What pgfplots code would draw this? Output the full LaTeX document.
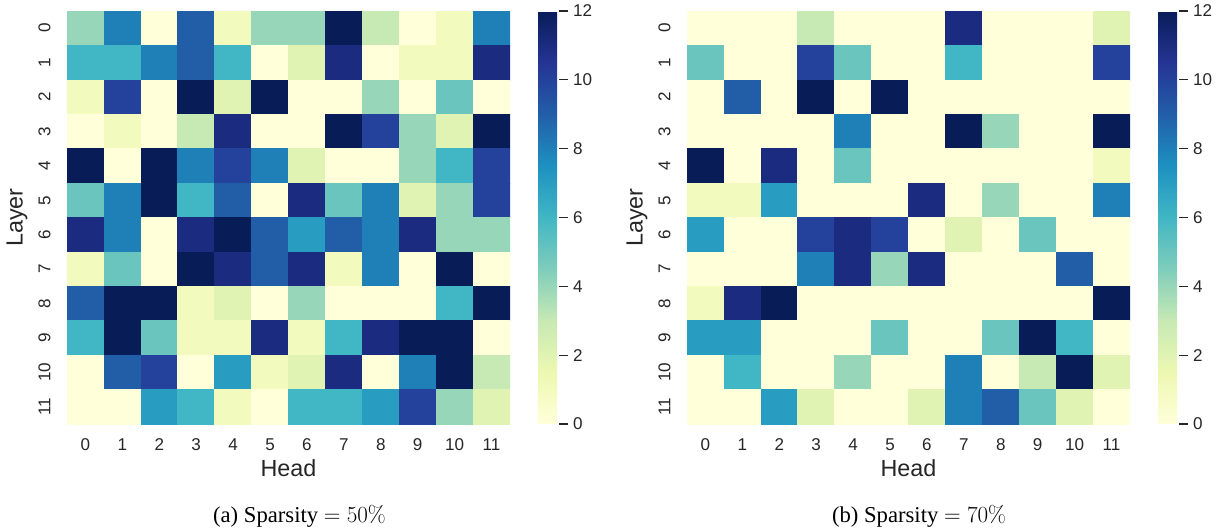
\documentclass[border=0pt]{standalone}
\usepackage{pgfplots}
\pgfplotsset{compat=1.18}
\usepackage[no-math]{fontspec}
\setmainfont{Liberation Sans}
\newfontfamily\capfont{Liberation Serif}
\definecolor{txt}{HTML}{262626}
\newcommand\tickfont{\fontsize{12.8}{15}\selectfont}
\newcommand\labfont{\fontsize{17.5}{21}\selectfont}
\pgfplotsset{
  colormap={ylgnbu}{rgb255=(255,255,217) rgb255=(237,248,177) rgb255=(199,233,180) rgb255=(127,205,187) rgb255=(65,182,196) rgb255=(29,145,192) rgb255=(34,94,168) rgb255=(37,52,148) rgb255=(8,29,88)},
  hm/.style={
    anchor=south west, scale only axis, width=332.25pt, height=309.75pt,
    xmin=-0.5, xmax=11.5, ymin=-0.5, ymax=11.5, y dir=reverse, enlargelimits=false,
    xtick={0,...,11}, ytick={0,...,11},
    axis line style={draw=none}, major tick length=0pt,
    colormap name=ylgnbu, point meta min=0, point meta max=12,
    /pgf/number format/assume math mode=true,
    tick label style={font=\tickfont, text=txt},
    xticklabel style={anchor=center, yshift=-15.4pt},
    yticklabel style={xshift=-16.9pt, rotate=90, anchor=center},
    xlabel={Head}, ylabel={Layer},
    xlabel style={at={(axis description cs:0.5,-0.1275)}, anchor=base, font=\labfont, text=txt},
    ylabel style={at={(axis description cs:-0.1129,0.5)}, anchor=center, font=\labfont, text=txt},
    colorbar,
    colorbar shift/.style={xshift=21pt},
    colorbar style={
      scale only axis, width=15.75pt,
      ytick={0,2,...,12}, major tick length=7pt, tick align=outside, ytick pos=right,
      axis line style={draw=none}, tick style={draw=txt, line width=0.8pt},
      /pgf/number format/assume math mode=true,
      yticklabel style={font=\tickfont, text=txt},
    },
  },
}
\begin{document}
\begin{tikzpicture}
\useasboundingbox (0,0) rectangle (913.5pt,396pt);
\begin{axis}[hm, at={(50.25pt,78pt)}]
\addplot[matrix plot*, mesh/cols=12, point meta=explicit] coordinates {
(0,0)[4] (1,0)[8] (2,0)[0] (3,0)[9] (4,0)[1] (5,0)[4] (6,0)[4] (7,0)[12] (8,0)[3] (9,0)[0] (10,0)[1] (11,0)[8]
(0,1)[6] (1,1)[6] (2,1)[8] (3,1)[9] (4,1)[6] (5,1)[0] (6,1)[2] (7,1)[11] (8,1)[0] (9,1)[1] (10,1)[1] (11,1)[11]
(0,2)[1] (1,2)[10] (2,2)[0] (3,2)[12] (4,2)[2] (5,2)[12] (6,2)[0] (7,2)[0] (8,2)[4] (9,2)[0] (10,2)[5] (11,2)[0]
(0,3)[0] (1,3)[1] (2,3)[0] (3,3)[3] (4,3)[11] (5,3)[0] (6,3)[0] (7,3)[12] (8,3)[10] (9,3)[4] (10,3)[2] (11,3)[12]
(0,4)[12] (1,4)[0] (2,4)[12] (3,4)[8] (4,4)[10] (5,4)[8] (6,4)[2] (7,4)[0] (8,4)[0] (9,4)[4] (10,4)[6] (11,4)[10]
(0,5)[5] (1,5)[8] (2,5)[12] (3,5)[6] (4,5)[9] (5,5)[0] (6,5)[11] (7,5)[5] (8,5)[8] (9,5)[2] (10,5)[4] (11,5)[10]
(0,6)[11] (1,6)[8] (2,6)[0] (3,6)[11] (4,6)[12] (5,6)[9] (6,6)[7] (7,6)[9] (8,6)[8] (9,6)[11] (10,6)[4] (11,6)[4]
(0,7)[1] (1,7)[5] (2,7)[0] (3,7)[12] (4,7)[11] (5,7)[9] (6,7)[11] (7,7)[1] (8,7)[8] (9,7)[0] (10,7)[12] (11,7)[0]
(0,8)[9] (1,8)[12] (2,8)[12] (3,8)[1] (4,8)[2] (5,8)[0] (6,8)[4] (7,8)[0] (8,8)[0] (9,8)[0] (10,8)[6] (11,8)[12]
(0,9)[6] (1,9)[12] (2,9)[5] (3,9)[1] (4,9)[1] (5,9)[11] (6,9)[1] (7,9)[6] (8,9)[11] (9,9)[12] (10,9)[12] (11,9)[0]
(0,10)[0] (1,10)[9] (2,10)[10] (3,10)[0] (4,10)[7] (5,10)[1] (6,10)[2] (7,10)[11] (8,10)[0] (9,10)[8] (10,10)[12] (11,10)[3]
(0,11)[0] (1,11)[0] (2,11)[7] (3,11)[6] (4,11)[1] (5,11)[0] (6,11)[6] (7,11)[6] (8,11)[7] (9,11)[10] (10,11)[4] (11,11)[2]
};
\end{axis}
\begin{axis}[hm, at={(515.25pt,78pt)}]
\addplot[matrix plot*, mesh/cols=12, point meta=explicit] coordinates {
(0,0)[0] (1,0)[0] (2,0)[0] (3,0)[3] (4,0)[0] (5,0)[0] (6,0)[0] (7,0)[11] (8,0)[0] (9,0)[0] (10,0)[0] (11,0)[2]
(0,1)[5] (1,1)[0] (2,1)[0] (3,1)[10] (4,1)[5] (5,1)[0] (6,1)[0] (7,1)[6] (8,1)[0] (9,1)[0] (10,1)[0] (11,1)[10]
(0,2)[0] (1,2)[9] (2,2)[0] (3,2)[12] (4,2)[0] (5,2)[12] (6,2)[0] (7,2)[0] (8,2)[0] (9,2)[0] (10,2)[0] (11,2)[0]
(0,3)[0] (1,3)[0] (2,3)[0] (3,3)[0] (4,3)[8] (5,3)[0] (6,3)[0] (7,3)[12] (8,3)[4] (9,3)[0] (10,3)[0] (11,3)[12]
(0,4)[12] (1,4)[0] (2,4)[11] (3,4)[0] (4,4)[5] (5,4)[0] (6,4)[0] (7,4)[0] (8,4)[0] (9,4)[0] (10,4)[0] (11,4)[1]
(0,5)[1] (1,5)[1] (2,5)[7] (3,5)[0] (4,5)[0] (5,5)[0] (6,5)[11] (7,5)[0] (8,5)[4] (9,5)[0] (10,5)[0] (11,5)[8]
(0,6)[7] (1,6)[0] (2,6)[0] (3,6)[10] (4,6)[11] (5,6)[10] (6,6)[0] (7,6)[2] (8,6)[0] (9,6)[5] (10,6)[0] (11,6)[0]
(0,7)[0] (1,7)[0] (2,7)[0] (3,7)[8] (4,7)[11] (5,7)[4] (6,7)[11] (7,7)[0] (8,7)[0] (9,7)[0] (10,7)[9] (11,7)[0]
(0,8)[1] (1,8)[11] (2,8)[12] (3,8)[0] (4,8)[0] (5,8)[0] (6,8)[0] (7,8)[0] (8,8)[0] (9,8)[0] (10,8)[0] (11,8)[12]
(0,9)[7] (1,9)[7] (2,9)[0] (3,9)[0] (4,9)[0] (5,9)[5] (6,9)[0] (7,9)[0] (8,9)[5] (9,9)[12] (10,9)[6] (11,9)[0]
(0,10)[0] (1,10)[6] (2,10)[0] (3,10)[0] (4,10)[4] (5,10)[0] (6,10)[0] (7,10)[8] (8,10)[0] (9,10)[3] (10,10)[12] (11,10)[2]
(0,11)[0] (1,11)[0] (2,11)[7] (3,11)[2] (4,11)[0] (5,11)[0] (6,11)[2] (7,11)[8] (8,11)[9] (9,11)[5] (10,11)[2] (11,11)[0]
};
\end{axis}
\node[anchor=base, font=\capfont\fontsize{17}{20}\selectfont] at (224.6pt,3.75pt) {(a) Sparsity $=50\%$};
\node[anchor=base, font=\capfont\fontsize{17}{20}\selectfont] at (689.25pt,3.75pt) {(b) Sparsity $=70\%$};
\end{tikzpicture}
\end{document}
